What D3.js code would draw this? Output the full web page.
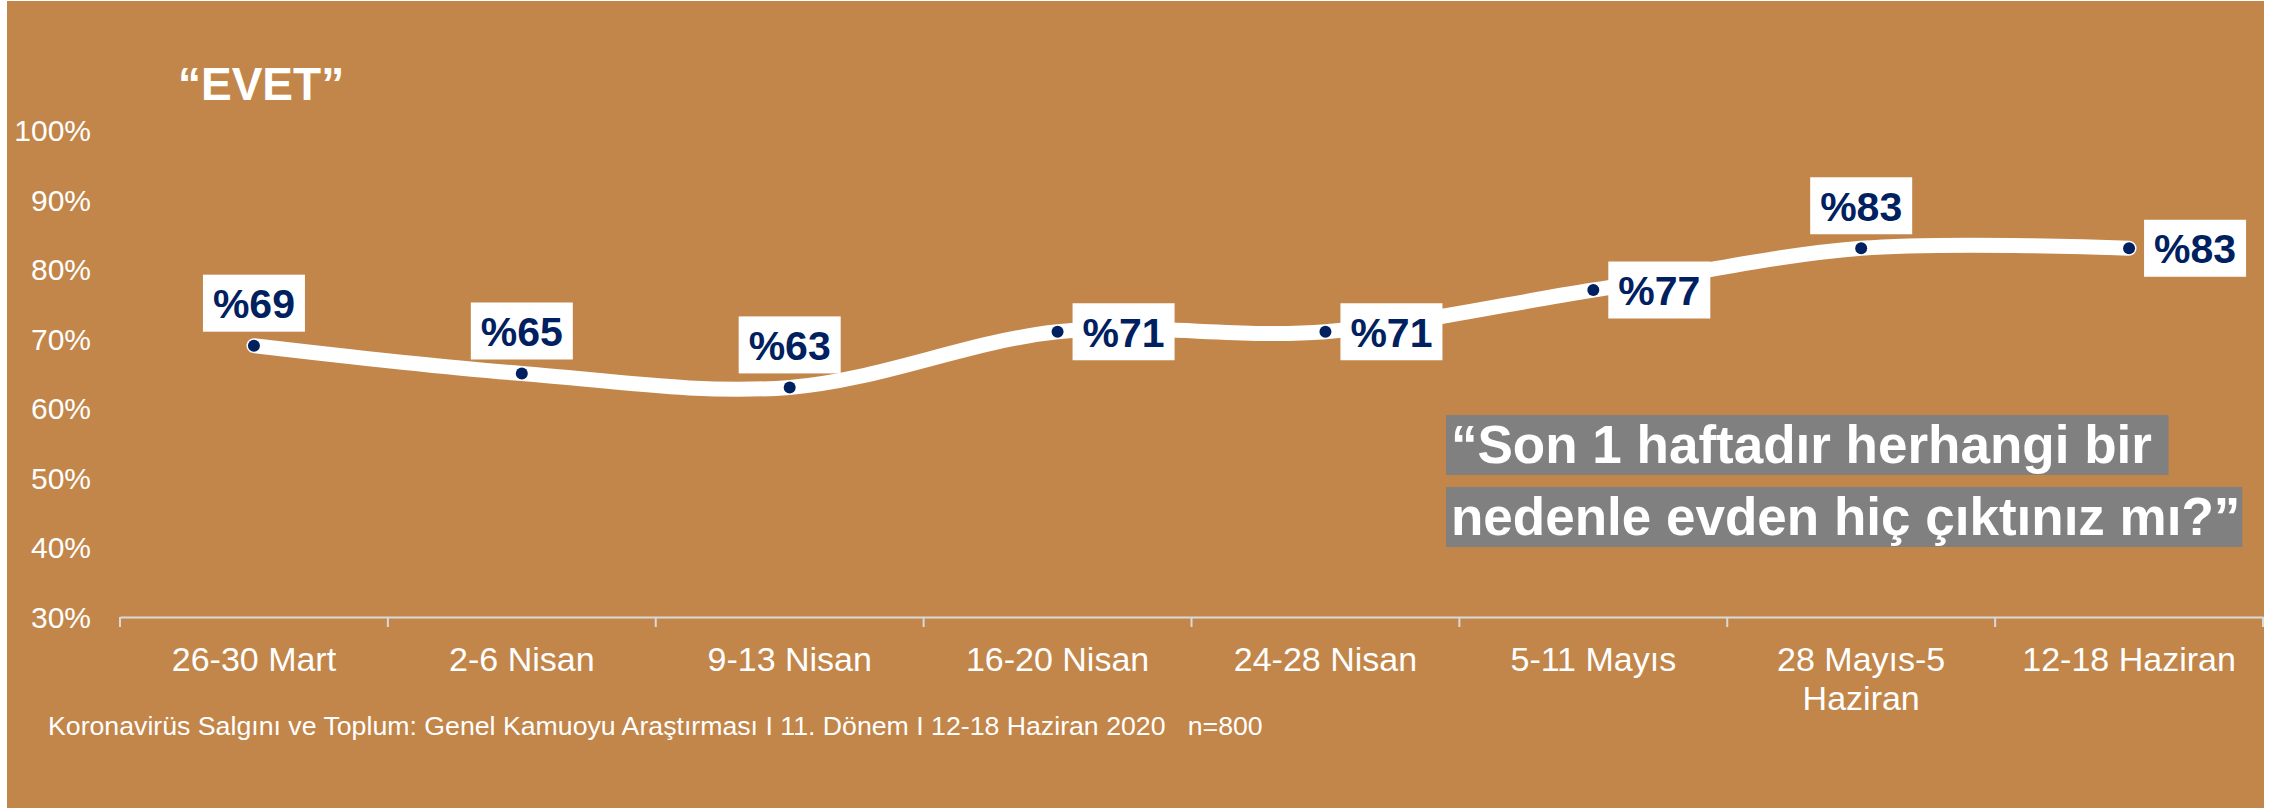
<!DOCTYPE html>
<html>
<head>
<meta charset="utf-8">
<script src="https://cdn.jsdelivr.net/npm/d3@7"></script>
<style>
  body { margin:0; background:#fff; }
  svg { display:block; font-family:"Liberation Sans", Arial, sans-serif; }
</style>
</head>
<body>
<svg id="chart" width="2278" height="809"></svg>
<script>
// chart data
var categories = ["26-30 Mart","2-6 Nisan","9-13 Nisan","16-20 Nisan","24-28 Nisan","5-11 Mayıs","28 Mayıs-5\nHaziran","12-18 Haziran"];
var values = [69,65,63,71,71,77,83,83];
var yTicks = [30,40,50,60,70,80,90,100];
var labelSide = ["top","top","top","right","right","right","top","right"];
var title = "“EVET”";
var question = ["“Son 1 haftadır herhangi bir ","nedenle evden hiç çıktınız mı?”"];
var footnote = "Koronavirüs Salgını ve Toplum: Genel Kamuoyu Araştırması I 11. Dönem I 12-18 Haziran 2020   n=800";

var svg = d3.select("#chart");
var navy = "#002060";

svg.append("rect")
  .attr("x",7).attr("y",1)
  .attr("width",2257).attr("height",807)
  .attr("fill","#C2864A");

var x = d3.scaleBand().domain(categories).range([120,2263]);
var y = d3.scaleLinear().domain([30,100]).range([617,130]);
var cx = function(d,i){ return x(categories[i]) + x.bandwidth()/2; };

// y labels, no axis line
svg.selectAll(".ylab").data(yTicks).enter().append("text")
  .attr("class","ylab")
  .attr("x",91)
  .attr("y",function(d){ return y(d)+11; })
  .attr("text-anchor","end")
  .attr("fill","#fff")
  .style("font-size","30px")
  .text(function(d){ return d+"%"; });

// x axis
var xAxis = svg.append("g")
  .attr("transform","translate(0,"+y(30)+")")
  .call(d3.axisBottom(x).tickSize(0).tickPadding(0));
xAxis.select(".domain").attr("stroke","#d9d9d9").attr("stroke-width",2);
xAxis.selectAll(".tick text").each(function(d){
  var t = d3.select(this).text("")
    .attr("fill","#fff").attr("y",54).attr("dy",null)
    .style("font-size","34px").attr("font-family",null);
  d.split("\n").forEach(function(line,k){
    t.append("tspan").attr("x",0).attr("dy",k?39:0).text(line);
  });
});
var bounds = categories.map(function(c){ return x(c); }).concat([x.range()[1]]);
xAxis.selectAll(".bound").data(bounds).enter().append("line")
  .attr("class","bound")
  .attr("x1",function(d){ return d; }).attr("x2",function(d){ return d; })
  .attr("y1",0).attr("y2",10)
  .attr("stroke","#d9d9d9").attr("stroke-width",2);

// smooth line
var line = d3.line()
  .x(cx)
  .y(function(d){ return y(d); })
  .curve(d3.curveCardinal.tension(0));
svg.append("path")
  .datum(values)
  .attr("d",line)
  .attr("fill","none")
  .attr("stroke","#fff")
  .attr("stroke-width",15)
  .attr("stroke-linecap","round");

svg.selectAll(".dot").data(values).enter().append("circle")
  .attr("class","dot")
  .attr("cx",cx)
  .attr("cy",function(d){ return y(d); })
  .attr("r",6)
  .attr("fill",navy);

// value labels
var bw = 102, bh = 57;
var lab = svg.selectAll(".lab").data(values).enter().append("g")
  .attr("class","lab")
  .attr("transform",function(d,i){
    var px = cx(d,i), py = y(d);
    if (labelSide[i]=="top") return "translate("+(px-bw/2)+","+(py-14-bh)+")";
    return "translate("+(px+15)+","+(py-bh/2)+")";
  });
lab.append("rect").attr("width",bw).attr("height",bh).attr("fill","#fff");
lab.append("text")
  .attr("x",bw/2).attr("y",bh/2+15)
  .attr("text-anchor","middle")
  .attr("fill",navy)
  .style("font-size","41px").style("font-weight","bold")
  .text(function(d){ return "%"+d; });

// title
svg.append("text")
  .attr("x",178).attr("y",100)
  .attr("fill","#fff")
  .style("font-size","46px").style("font-weight","bold")
  .text(title);

// question box
question.forEach(function(q,k){
  var by = 463 + k*72;
  var bg = svg.append("rect").attr("fill","#808080");
  var t = svg.append("text")
    .attr("x",1451).attr("y",by)
    .attr("fill","#fff")
    .attr("xml:space","preserve")
    .style("white-space","pre")
    .style("font-size","53px").style("font-weight","bold")
    .text(q);
  var w = t.node().getComputedTextLength();
  bg.attr("x",1446).attr("y",by-48).attr("width",w+7).attr("height",60);
});

// footnote
svg.append("text")
  .attr("x",48).attr("y",735)
  .attr("fill","#fff")
  .style("white-space","pre")
  .style("font-size","26.7px")
  .text(footnote);
</script>
</body>
</html>
